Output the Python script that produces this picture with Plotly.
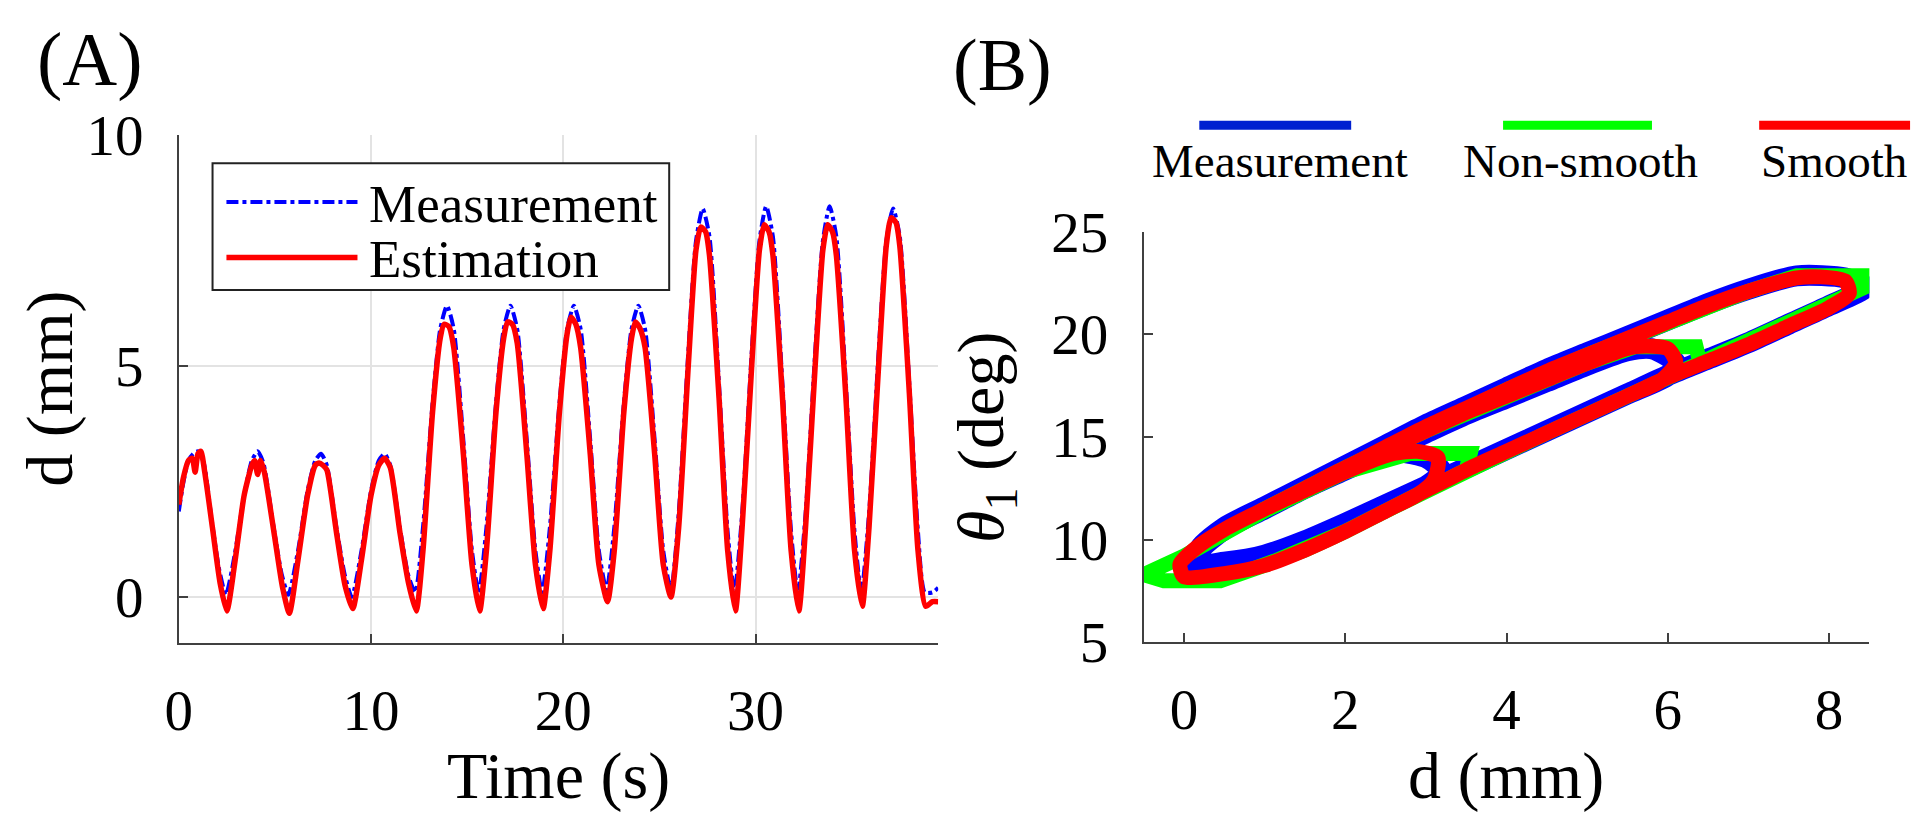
import plotly.graph_objects as go

W, H = 1920, 839
FONT = "Liberation Serif"

# ---- panel A: d over time ----
meas_t = [0, 0.25, 0.5, 0.75, 1.0, 1.3, 1.7, 2.1, 2.45,
          2.9, 3.4, 3.8, 4.1, 4.4, 4.9, 5.35, 5.7,
          6.2, 6.7, 7.1, 7.4, 7.7, 8.2, 8.65, 9.0,
          9.5, 10.0, 10.4, 10.7, 11.0, 11.5, 11.95, 12.3,
          12.7, 13.2, 13.6, 13.95, 14.3, 14.8, 15.25, 15.6,
          16.0, 16.5, 16.9, 17.25, 17.6, 18.1, 18.55, 18.9,
          19.3, 19.8, 20.2, 20.55, 20.9, 21.4, 21.85, 22.25,
          22.65, 23.15, 23.55, 23.9, 24.25, 24.75, 25.2, 25.6,
          26.0, 26.5, 26.9, 27.25, 27.6, 28.1, 28.55, 28.9,
          29.3, 29.8, 30.2, 30.55, 30.9, 31.4, 31.85, 32.2,
          32.6, 33.1, 33.5, 33.85, 34.2, 34.7, 35.15, 35.5,
          35.9, 36.4, 36.8, 37.15, 37.5, 38.0, 38.45, 38.8, 39.2, 39.5]
meas_d = [1.85, 2.5, 2.95, 3.1, 3.15, 2.9, 1.7, 0.6, 0.05,
          0.9, 2.2, 2.95, 3.15, 2.9, 1.6, 0.5, 0.05,
          1.0, 2.3, 2.95, 3.1, 2.85, 1.5, 0.45, 0.0,
          1.0, 2.3, 2.95, 3.1, 2.85, 1.5, 0.45, 0.1,
          1.5, 4.2, 5.8, 6.3, 5.8, 3.4, 1.0, 0.1,
          1.5, 4.2, 5.8, 6.3, 5.8, 3.4, 1.0, 0.1,
          1.5, 4.2, 5.8, 6.3, 5.8, 3.4, 1.0, 0.15,
          1.5, 4.2, 5.8, 6.3, 5.8, 3.4, 1.0, 0.15,
          1.8, 5.3, 7.7, 8.4, 7.8, 4.6, 1.4, 0.1,
          1.8, 5.3, 7.7, 8.45, 7.8, 4.6, 1.4, 0.1,
          1.8, 5.3, 7.7, 8.45, 7.8, 4.6, 1.4, 0.1,
          1.8, 5.3, 7.7, 8.4, 7.8, 4.6, 1.4, 0.1, 0.1, 0.2]

est_t = [0, 0.25, 0.5, 0.7, 0.85, 1.0, 1.15, 1.35, 1.75, 2.15, 2.5,
         2.9, 3.4, 3.8, 3.95, 4.1, 4.25, 4.45, 4.95, 5.4, 5.75,
         6.2, 6.7, 7.1, 7.3, 7.5, 7.7, 8.2, 8.65, 9.05,
         9.5, 10.0, 10.4, 10.7, 11.0, 11.5, 11.95, 12.35,
         12.7, 13.2, 13.6, 13.8, 14.05, 14.3, 14.8, 15.25, 15.65,
         16.0, 16.5, 16.9, 17.1, 17.35, 17.6, 18.1, 18.55, 18.95,
         19.3, 19.8, 20.2, 20.4, 20.65, 20.9, 21.4, 21.85, 22.3,
         22.65, 23.15, 23.55, 23.75, 24.0, 24.25, 24.75, 25.2, 25.6,
         26.0, 26.5, 26.9, 27.15, 27.4, 27.6, 28.1, 28.55, 28.95,
         29.3, 29.8, 30.2, 30.45, 30.7, 30.9, 31.4, 31.85, 32.25,
         32.6, 33.1, 33.5, 33.75, 34.0, 34.2, 34.7, 35.15, 35.55,
         35.9, 36.4, 36.8, 37.05, 37.3, 37.5, 38.0, 38.45, 38.85, 39.2, 39.5]
est_d = [2.0, 2.6, 2.95, 3.0, 2.7, 3.1, 3.15, 2.7, 1.5, 0.3, -0.3,
         0.7, 2.2, 2.85, 2.95, 2.65, 2.95, 2.7, 1.4, 0.2, -0.35,
         0.8, 2.2, 2.85, 2.9, 2.85, 2.75, 1.4, 0.25, -0.25,
         0.8, 2.2, 2.85, 3.0, 2.8, 1.4, 0.3, -0.3,
         1.0, 4.0, 5.6, 5.9, 5.85, 5.4, 3.1, 0.7, -0.3,
         1.0, 4.0, 5.6, 5.95, 5.9, 5.5, 3.1, 0.7, -0.25,
         1.0, 4.0, 5.7, 6.05, 5.9, 5.4, 3.1, 0.7, -0.1,
         1.0, 4.0, 5.6, 5.95, 5.8, 5.4, 3.1, 0.7, 0.0,
         1.5, 5.0, 7.5, 8.0, 7.9, 7.4, 4.3, 1.0, -0.3,
         1.5, 5.0, 7.5, 8.05, 7.9, 7.4, 4.3, 1.0, -0.3,
         1.5, 5.0, 7.5, 8.05, 7.9, 7.4, 4.3, 1.0, -0.2,
         1.5, 5.0, 7.6, 8.2, 8.1, 7.6, 4.4, 1.0, -0.2, -0.1, -0.1]

# ---- panel B: theta_1 against d (3, 6 and 8 mm loops) ----
blue_d = [0.15, 0.5, 1.0, 1.5, 2.0, 2.5, 3.0, 3.2, 3.0, 2.5, 2.0, 1.5, 1.0, 0.5, 0.2,
          0.15, 0.5, 1.0, 1.5, 2.0, 2.5, 3.0, 3.5, 4.0, 4.5, 5.0, 5.5, 6.0, 6.1, 5.8, 5.5,
          5.0, 4.5, 4.0, 3.5, 3.0, 2.5, 2.0, 1.5, 1.0, 0.5, 0.2,
          0.15, 0.5, 1.0, 1.5, 2.0, 2.5, 3.0, 3.5, 4.0, 4.5, 5.0, 5.5, 6.0, 6.5, 7.0, 7.5,
          8.0, 8.45, 8.2, 7.6, 7.0, 6.5, 6.0, 5.5, 5.0, 4.5, 4.0, 3.5, 3.0, 2.5, 2.0, 1.5,
          1.0, 0.5, 0.2, 0.15]
blue_th = [8.8, 8.9, 9.25, 9.95, 10.8, 11.7, 12.6, 13.3, 14.0, 14.3, 13.4, 12.5, 11.5, 10.5, 9.5,
           8.8, 8.9, 9.25, 9.95, 10.8, 11.7, 12.6, 13.5, 14.4, 15.3, 16.2, 17.1, 18.0, 18.6, 19.3, 19.2,
           18.5, 17.7, 16.9, 16.1, 15.2, 14.3, 13.4, 12.5, 11.5, 10.5, 9.5,
           8.8, 8.9, 9.25, 9.95, 10.8, 11.7, 12.6, 13.5, 14.4, 15.3, 16.2, 17.1, 18.0, 18.8, 19.6, 20.5,
           21.4, 22.3, 22.75, 22.85, 22.2, 21.5, 20.7, 19.9, 19.1, 18.3, 17.4, 16.5, 15.6, 14.6, 13.6, 12.6,
           11.6, 10.6, 9.6, 8.8]

green_d = [0.45, 1.0, 1.5, 2.0, 2.5, 3.0, 3.5, 3.55, 2.8, 2.0, 1.0, 0.0, -0.5, -0.25,
           0.45, 1.0, 1.5, 2.0, 2.5, 3.0, 3.5, 4.0, 4.5, 5.0, 5.5, 6.0, 6.4, 6.35, 5.6,
           5.0, 4.0, 3.0, 2.0, 1.0, 0.0, -0.5, -0.25,
           0.45, 1.0, 1.5, 2.0, 2.5, 3.0, 3.5, 4.0, 4.5, 5.0, 5.5, 6.0, 6.5, 7.0, 7.5, 8.0,
           8.5, 8.45, 7.6, 7.0, 6.0, 5.0, 4.0, 3.0, 2.0, 1.0, 0.0, -0.5, -0.25, 0.45]
green_th = [8.0, 8.75, 9.5, 10.4, 11.4, 12.4, 13.4, 14.2, 14.2, 13.3, 11.4, 9.2, 8.3, 8.0,
            8.0, 8.75, 9.5, 10.4, 11.4, 12.4, 13.4, 14.3, 15.2, 16.1, 17.0, 17.9, 18.6, 19.4, 19.4,
            18.6, 17.0, 15.3, 13.5, 11.5, 9.2, 8.3, 8.0,
            8.0, 8.75, 9.5, 10.4, 11.4, 12.4, 13.4, 14.3, 15.2, 16.1, 17.0, 17.9, 18.7, 19.5, 20.4, 21.3,
            22.4, 22.85, 22.85, 22.1, 20.6, 19.0, 17.3, 15.5, 13.5, 11.5, 9.2, 8.3, 8.0, 8.0]

red_d = [0.0, 0.5, 1.0, 1.5, 2.0, 2.5, 2.9, 3.1, 3.15, 2.9, 2.6, 2.3, 2.0, 1.5, 1.0, 0.5, 0.15, -0.05,
         0.0, 0.5, 1.0, 1.5, 2.0, 2.5, 3.0, 3.5, 4.0, 4.5, 5.0, 5.5, 5.9, 6.1, 6.0, 5.6,
         5.0, 4.5, 4.0, 3.5, 3.0, 2.5, 2.0, 1.5, 1.0, 0.5, 0.15, -0.05,
         0.0, 0.5, 1.0, 1.5, 2.0, 2.5, 3.0, 3.5, 4.0, 4.5, 5.0, 5.5, 6.0, 6.5, 7.0, 7.5, 8.0,
         8.25, 8.2, 7.9, 7.6, 7.0, 6.5, 6.0, 5.5, 5.0, 4.5, 4.0, 3.5, 3.0, 2.5, 2.0, 1.5,
         1.0, 0.5, 0.15, -0.05, 0.0]
red_th = [8.2, 8.35, 8.75, 9.5, 10.4, 11.4, 12.2, 12.9, 14.0, 14.3, 14.2, 13.8, 13.3, 12.4, 11.5, 10.5, 9.6, 8.8,
          8.2, 8.35, 8.75, 9.5, 10.4, 11.4, 12.4, 13.4, 14.3, 15.2, 16.1, 17.0, 17.7, 18.6, 19.3, 19.4,
          18.6, 17.8, 17.0, 16.2, 15.3, 14.4, 13.5, 12.5, 11.5, 10.5, 9.6, 8.8,
          8.2, 8.35, 8.75, 9.5, 10.4, 11.4, 12.4, 13.4, 14.3, 15.2, 16.1, 17.0, 17.9, 18.7, 19.5, 20.4, 21.3,
          22.0, 22.6, 22.8, 22.75, 22.1, 21.4, 20.6, 19.8, 19.0, 18.2, 17.3, 16.4, 15.5, 14.5, 13.5, 12.5,
          11.5, 10.5, 9.6, 8.8, 8.2]


def px(x):
    return x / W


def py(y):
    return 1 - y / H


fig = go.Figure()

fig.add_trace(go.Scatter(x=meas_t, y=meas_d, mode="lines", name="Measurement",
                         line=dict(color="#0000FF", width=4, dash="dashdot", shape="spline", smoothing=0.6),
                         xaxis="x", yaxis="y"))
fig.add_trace(go.Scatter(x=est_t, y=est_d, mode="lines", name="Estimation",
                         line=dict(color="#FF0000", width=5.5, shape="spline", smoothing=0.6),
                         xaxis="x", yaxis="y"))

fig.add_trace(go.Scatter(x=blue_d, y=blue_th, mode="lines", name="Measurement",
                         line=dict(color="#0000FF", width=21, shape="spline", smoothing=0.7),
                         xaxis="x2", yaxis="y2"))
fig.add_trace(go.Scatter(x=green_d, y=green_th, mode="lines", name="Non-smooth",
                         line=dict(color="#00FF00", width=15),
                         xaxis="x2", yaxis="y2"))
fig.add_trace(go.Scatter(x=red_d, y=red_th, mode="lines", name="Smooth",
                         line=dict(color="#FF0000", width=15, shape="spline", smoothing=0.7),
                         xaxis="x2", yaxis="y2"))

axis_common = dict(
    showline=True, linecolor="#404040", linewidth=2,
    ticks="inside", ticklen=9, tickwidth=2, tickcolor="#404040",
    tickfont=dict(family=FONT, size=57, color="black"),
    zeroline=False, mirror=False,
)

fig.update_layout(
    width=W, height=H,
    margin=dict(l=0, r=0, t=0, b=0),
    paper_bgcolor="white", plot_bgcolor="white",
    showlegend=False,
    font=dict(family=FONT, color="black"),
    xaxis=dict(domain=[px(166), px(931)], range=[0, 39.5], tickvals=[0, 10, 20, 30],
               showgrid=True, gridcolor="#e3e3e3", gridwidth=1.5, anchor="y",
               ticklabelstandoff=16, **axis_common),
    yaxis=dict(domain=[py(662), py(112)], range=[-1, 10], tickvals=[0, 5, 10],
               showgrid=True, gridcolor="#e3e3e3", gridwidth=1.5, anchor="x",
               ticklabelstandoff=22, **axis_common),
    xaxis2=dict(domain=[px(1138), px(1869)], range=[-0.5, 8.5], tickvals=[0, 2, 4, 6, 8],
                showgrid=False, anchor="y2", ticklabelstandoff=16, **axis_common),
    yaxis2=dict(domain=[py(661), py(217)], range=[5, 25], tickvals=[5, 10, 15, 20, 25],
                showgrid=False, anchor="x2", ticklabelstandoff=22, **axis_common),
)

ann = [
    dict(text="(A)", x=px(77), y=py(31), font=dict(size=76)),
    dict(text="(B)", x=px(996), y=py(37), font=dict(size=74)),
    dict(text="Time (s)", x=px(548), y=py(806), font=dict(size=66)),
    dict(text="d (mm)", x=px(1503), y=py(806), font=dict(size=66)),
    dict(text="d (mm)", x=px(36), y=py(387), font=dict(size=66), textangle=-90),
    dict(text="<i>θ</i><sub>1</sub> (deg)", x=px(978), y=py(439), font=dict(size=66), textangle=-90),
    # panel A legend text
    dict(text="Measurement", x=px(356), y=py(187), font=dict(size=53), xanchor="left"),
    dict(text="Estimation", x=px(356), y=py(247), font=dict(size=53), xanchor="left"),
    # panel B legend text
    dict(text="Measurement", x=px(1275), y=py(141), font=dict(size=47)),
    dict(text="Non-smooth", x=px(1578), y=py(141), font=dict(size=47)),
    dict(text="Smooth", x=px(1833), y=py(141), font=dict(size=47)),
]
for a in ann:
    a.setdefault("xanchor", "center")
    a.update(xref="paper", yref="paper", yanchor="middle", showarrow=False)
    a["font"].update(family=FONT, color="black")
fig.update_layout(annotations=ann)

shapes = [
    # panel A legend box and samples
    dict(type="rect", x0=px(200), x1=px(660), y0=py(280), y1=py(143),
         line=dict(color="#222222", width=2), fillcolor="white"),
    dict(type="line", x0=px(214), x1=px(346), y0=py(185), y1=py(185),
         line=dict(color="#0000FF", width=4, dash="dashdot")),
    dict(type="line", x0=px(214), x1=px(346), y0=py(245), y1=py(245),
         line=dict(color="#FF0000", width=5.5)),
    # panel B legend samples
    dict(type="line", x0=px(1194), x1=px(1347), y0=py(102), y1=py(102),
         line=dict(color="#0020D0", width=9)),
    dict(type="line", x0=px(1500), x1=px(1650), y0=py(102), y1=py(102),
         line=dict(color="#00FF00", width=9)),
    dict(type="line", x0=px(1758), x1=px(1910), y0=py(102), y1=py(102),
         line=dict(color="#FF0000", width=9)),
]
for s in shapes:
    s.update(xref="paper", yref="paper", layer="above")
fig.update_layout(shapes=shapes)

fig.write_html("out.html", config={"displayModeBar": False},
               post_script="document.body.style.margin='0';")
